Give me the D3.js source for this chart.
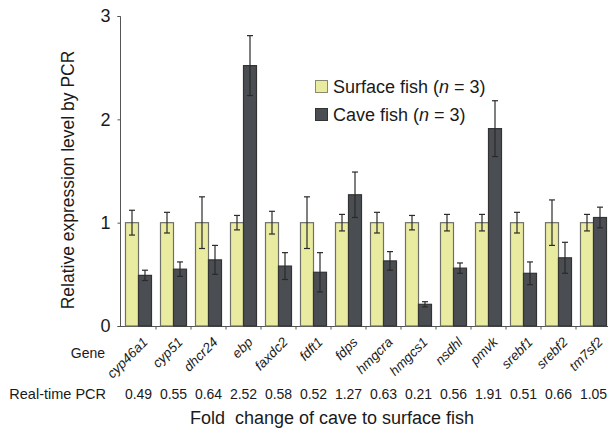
<!DOCTYPE html>
<html><head><meta charset="utf-8">
<script src="https://cdn.jsdelivr.net/npm/d3@7"></script>
<style>
body{margin:0;background:#fff;}
text{font-family:"Liberation Sans",Arial,sans-serif;fill:#1a1a1a;}
</style></head>
<body>
<svg id="c" width="608" height="431"></svg>
<script>
const genes = ["cyp46a1","cyp51","dhcr24","ebp","faxdc2","fdft1","fdps","hmgcra","hmgcs1","nsdhl","pmvk","srebf1","srebf2","tm7sf2"];
const surfaceValues = [1,1,1,1,1,1,1,1,1,1,1,1,1,1];
const surfaceErr = [0.12,0.10,0.25,0.07,0.11,0.25,0.08,0.10,0.07,0.08,0.08,0.10,0.22,0.08];
const caveValues = [0.49,0.55,0.64,2.52,0.58,0.52,1.27,0.63,0.21,0.56,1.91,0.51,0.66,1.05];
const caveErr = [0.05,0.07,0.14,0.29,0.13,0.19,0.22,0.09,0.025,0.05,0.27,0.11,0.15,0.10];
const foldLabels = ["0.49","0.55","0.64","2.52","0.58","0.52","1.27","0.63","0.21","0.56","1.91","0.51","0.66","1.05"];
const yTicks = [0,1,2,3];
const seriesNames = ["Surface fish","Cave fish"];

const svg = d3.select("#c");
const surfColor = "#e9eba1", caveColor = "#4a4d52";

const x0 = d3.scaleBand().domain(genes).range([121,611]).padding(0);
const x1 = d3.scaleBand().domain(["s","c"]).range([4.5,30.5]).padding(0);
const y = d3.scaleLinear().domain([0,3]).range([326,16]);

// axes
const yAxis = svg.append("g").attr("transform","translate(120.5,0)")
  .call(d3.axisLeft(y).tickValues(yTicks).tickFormat(d3.format("d")).tickSize(3).tickPadding(7));
yAxis.select(".domain").attr("stroke","#555").attr("d","M-3,16.5H0V326.5H-3");
yAxis.selectAll(".tick line").attr("stroke","#555");
yAxis.selectAll(".tick text").style("font-size","18px").attr("fill","#1a1a1a");

const xAxis = svg.append("g").attr("transform","translate(0,326.5)");
xAxis.append("line").attr("x1",120).attr("x2",611).attr("stroke","#555");
xAxis.selectAll("line.t").data(genes.slice(1)).enter().append("line")
  .attr("x1",d=>x0(d)).attr("x2",d=>x0(d)).attr("y1",0).attr("y2",3).attr("stroke","#555");

// bars
const g = svg.append("g");
genes.forEach((gene,i)=>{
  const bx = x0(gene);
  const data = [
    {k:"s",v:surfaceValues[i],e:surfaceErr[i],fill:surfColor,stroke:"#6f6f6a"},
    {k:"c",v:caveValues[i],e:caveErr[i],fill:caveColor,stroke:"#333"}
  ];
  data.forEach(d=>{
    const xl = bx + x1(d.k);
    g.append("rect").attr("x",xl).attr("y",y(d.v)).attr("width",x1.bandwidth()).attr("height",y(0)-y(d.v))
      .attr("fill",d.fill).attr("stroke",d.stroke).attr("stroke-width",1.2);
    const cx = xl + x1.bandwidth()/2;
    const eg = g.append("g").attr("stroke","#2a2a2a").attr("stroke-width",1.2);
    eg.append("line").attr("x1",cx).attr("x2",cx).attr("y1",y(d.v+d.e)).attr("y2",y(d.v-d.e));
    eg.append("line").attr("x1",cx-3).attr("x2",cx+3).attr("y1",y(d.v+d.e)).attr("y2",y(d.v+d.e));
    eg.append("line").attr("x1",cx-3).attr("x2",cx+3).attr("y1",y(d.v-d.e)).attr("y2",y(d.v-d.e));
  });
});

// gene labels
svg.selectAll("text.gene").data(genes).enter().append("text")
  .attr("transform",d=>`translate(${x0(d)+x0.bandwidth()/2+10},343) rotate(-45)`)
  .attr("text-anchor","end").style("font-size","13.5px").style("font-style","italic").text(d=>d);

svg.append("text").attr("x",105).attr("y",358).attr("text-anchor","end").style("font-size","14px").text("Gene");
svg.append("text").attr("x",106).attr("y",399).attr("text-anchor","end").style("font-size","14.5px").text("Real-time PCR");
svg.selectAll("text.fold").data(genes).enter().append("text")
  .attr("x",(d)=>x0(d)+x0.bandwidth()/2).attr("y",399).attr("text-anchor","middle").style("font-size","14px")
  .text((d,i)=>foldLabels[i]);
svg.append("text").attr("x",332).attr("y",424).attr("text-anchor","middle").style("font-size","18px")
  .attr("xml:space","preserve").style("white-space","pre").text("Fold  change of cave to surface fish");

// y label
svg.append("text").attr("transform","translate(74,180) rotate(-90)").attr("text-anchor","middle")
  .style("font-size","17.5px").text("Relative expression level by PCR");

// legend
const leg = svg.append("g");
const legItems = [{name:seriesNames[0],fill:surfColor,stroke:"#8a8a70",y:80},{name:seriesNames[1],fill:caveColor,stroke:"#333",y:108}];
legItems.forEach(it=>{
  leg.append("rect").attr("x",315.5).attr("y",it.y+0.5).attr("width",12).attr("height",12)
    .attr("fill",it.fill).attr("stroke",it.stroke).attr("stroke-width",1);
  const t = leg.append("text").attr("x",333).attr("y",it.y+12.5).style("font-size","18px");
  t.append("tspan").text(it.name+" (");
  t.append("tspan").style("font-style","italic").text("n");
  t.append("tspan").text(" = 3)");
});
</script>
</body></html>
